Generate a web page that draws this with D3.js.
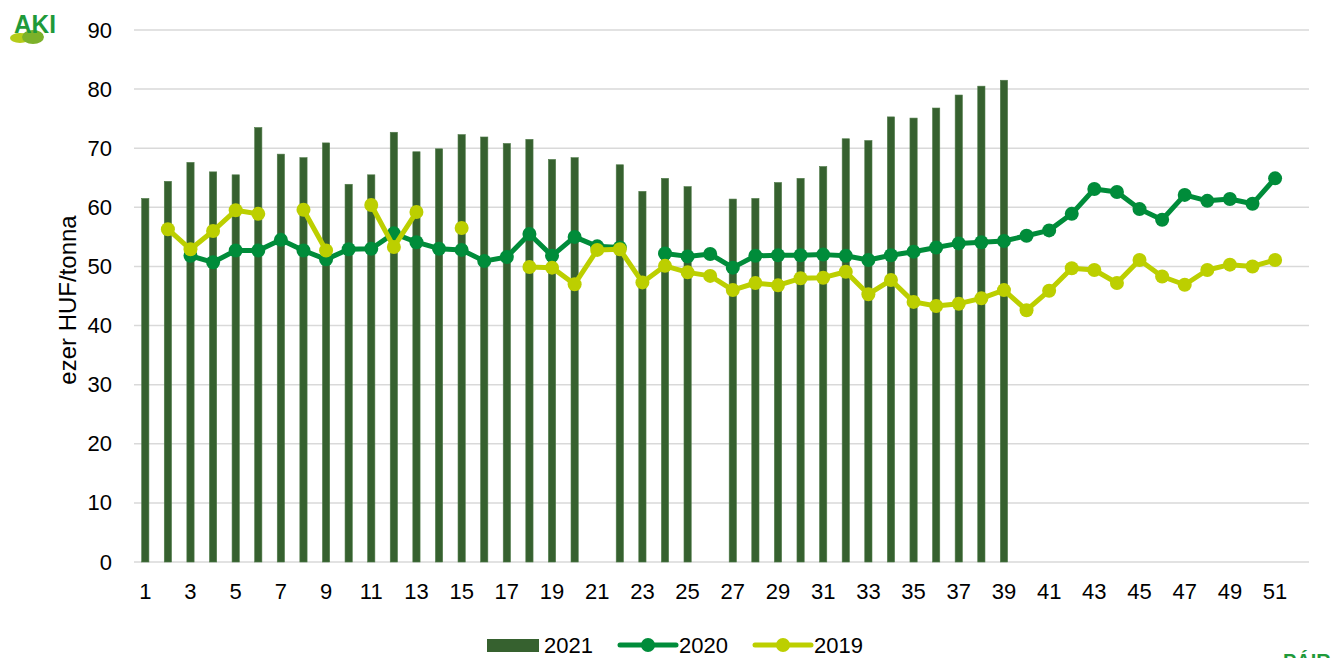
<!DOCTYPE html>
<html>
<head>
<meta charset="utf-8">
<script src="https://cdn.jsdelivr.net/npm/d3@7"></script>
<style>
  body { margin: 0; background: #fff; }
  text { font-family: "Liberation Sans", Arial, sans-serif; fill: #000; }
</style>
</head>
<body>
<div id="plot"></div>
<script>
// weeks 1..52 on the x axis, labels on odd weeks
const weeks = d3.range(1, 53);
const tickWeeks = d3.range(1, 52, 2);
const yTicks = d3.range(0, 91, 10);

// 2021 bars (weeks 1-39, some weeks missing)
const values2021 = [61.5, 64.4, 67.6, 66.0, 65.5, 73.5, 69.0, 68.4, 70.9, 63.9,
  65.5, 72.7, 69.4, 69.9, 72.3, 71.9, 70.8, 71.5, 68.1, 68.4,
  null, 67.2, 62.7, 64.9, 63.5, null, 61.4, 61.5, 64.2, 64.9,
  66.9, 71.6, 71.3, 75.3, 75.1, 76.8, 79.0, 80.5, 81.5];

// 2020 line
const values2020 = [null, null, 51.8, 50.7, 52.7, 52.7, 54.5, 52.7, 51.2, 52.9,
  53.0, 55.6, 54.1, 53.0, 52.8, 50.9, 51.6, 55.5, 51.8, 55.0,
  53.4, 53.2, null, 52.2, 51.7, 52.1, 49.8, 51.8, 51.9, 51.9,
  52.0, 51.8, 51.1, 51.9, 52.5, 53.2, 53.9, 54.1, 54.3, 55.2,
  56.1, 58.9, 63.1, 62.6, 59.7, 57.9, 62.1, 61.1, 61.4, 60.6, 64.9];

// 2019 line
const values2019 = [null, 56.3, 52.9, 56.0, 59.5, 58.9, null, 59.6, 52.7, null,
  60.4, 53.3, 59.2, null, 56.5, null, null, 49.9, 49.8, 47.0,
  52.8, 52.9, 47.3, 50.1, 49.0, 48.4, 46.0, 47.2, 46.8, 48.0,
  48.1, 49.1, 45.3, 47.7, 44.0, 43.3, 43.7, 44.6, 46.0, 42.6,
  45.9, 49.7, 49.4, 47.2, 51.1, 48.3, 46.9, 49.4, 50.3, 50.0, 51.1];

const seriesNames = ["2021", "2020", "2019"];
const colors = { "2021": "#36612f", "2020": "#008c3a", "2019": "#bccf00" };

const width = 1337, height = 658;
const plotLeft = 134, plotRight = 1309, plotTop = 30, plotBottom = 562;
const fontFamily = "Liberation Sans, Arial, sans-serif";

const svg = d3.select("#plot").append("svg")
  .attr("width", width)
  .attr("height", height);

const x = d3.scaleBand()
  .domain(weeks)
  .range([plotLeft, plotRight])
  .paddingInner(0.68)
  .paddingOuter(0.34);

const cx = d => x(d) + x.bandwidth() / 2;

const y = d3.scaleLinear().domain([0, 90]).range([plotBottom, plotTop]);

// gridlines
svg.append("g")
  .selectAll("line")
  .data(yTicks)
  .join("line")
    .attr("x1", plotLeft)
    .attr("x2", plotRight)
    .attr("y1", d => y(d))
    .attr("y2", d => y(d))
    .attr("stroke", "#d9d9d9")
    .attr("stroke-width", 1.5);

// y axis
const yAxis = svg.append("g")
  .attr("transform", `translate(${plotLeft},0)`)
  .call(d3.axisLeft(y).tickValues(yTicks).tickSize(0).tickPadding(22));
yAxis.select(".domain").remove();
yAxis.selectAll("text").style("font-size", "22px").style("font-family", fontFamily).attr("fill", "#000");

// x axis
const xAxis = svg.append("g")
  .attr("transform", `translate(0,${plotBottom})`)
  .call(d3.axisBottom(x).tickValues(tickWeeks).tickSize(0).tickPadding(21));
xAxis.select(".domain").remove();
xAxis.selectAll("text").style("font-size", "22px").style("font-family", fontFamily).attr("fill", "#000");

// y title
svg.append("text")
  .attr("transform", "translate(76,300) rotate(-90)")
  .attr("text-anchor", "middle")
  .style("font-size", "24px")
  .text("ezer HUF/tonna");

// bars
svg.append("g")
  .selectAll("rect")
  .data(values2021.map((v, i) => ({ week: i + 1, v })).filter(d => d.v != null))
  .join("rect")
    .attr("x", d => x(d.week))
    .attr("width", x.bandwidth())
    .attr("y", d => y(d.v))
    .attr("height", d => y(0) - y(d.v))
    .attr("fill", colors["2021"])
    .attr("stroke", "#4f7a48")
    .attr("stroke-width", 0.6);

// lines
const line = d3.line()
  .defined(d => d.v != null)
  .x(d => cx(d.week))
  .y(d => y(d.v));

function drawLine(values, color) {
  const data = values.map((v, i) => ({ week: i + 1, v }));
  svg.append("path")
    .datum(data)
    .attr("fill", "none")
    .attr("stroke", color)
    .attr("stroke-width", 5)
    .attr("stroke-linejoin", "round")
    .attr("d", line);
  svg.append("g")
    .selectAll("circle")
    .data(data.filter(d => d.v != null))
    .join("circle")
      .attr("cx", d => cx(d.week))
      .attr("cy", d => y(d.v))
      .attr("r", 7)
      .attr("fill", color);
}

drawLine(values2020, colors["2020"]);
drawLine(values2019, colors["2019"]);

// legend
const legend = svg.append("g").attr("transform", "translate(0,645)");
legend.append("rect")
  .attr("x", 487).attr("y", -6).attr("width", 52).attr("height", 13)
  .attr("fill", colors["2021"]);
legend.append("text").attr("x", 544).attr("y", 8).style("font-size", "22px").text(seriesNames[0]);

[[620, seriesNames[1]], [755, seriesNames[2]]].forEach(([lx, name]) => {
  legend.append("line")
    .attr("x1", lx).attr("x2", lx + 56).attr("y1", 0).attr("y2", 0)
    .attr("stroke", colors[name]).attr("stroke-width", 5).attr("stroke-linecap", "round");
  legend.append("circle").attr("cx", lx + 28).attr("cy", 0).attr("r", 7).attr("fill", colors[name]);
  legend.append("text").attr("x", lx + 59).attr("y", 8).style("font-size", "22px").text(name);
});

// logos
const logo = svg.append("g");
logo.append("ellipse").attr("cx", 20).attr("cy", 38).attr("rx", 10).attr("ry", 5).attr("fill", "#b5cc1a");
logo.append("ellipse").attr("cx", 33).attr("cy", 37).attr("rx", 11).attr("ry", 7).attr("fill", "#7cb12a");
logo.append("text")
  .attr("x", 14).attr("y", 33)
  .attr("textLength", 42)
  .attr("lengthAdjust", "spacingAndGlyphs")
  .style("font-size", "25px").style("font-weight", "bold")
  .style("fill", "#1f9a3a")
  .text("AKI");

svg.append("text")
  .attr("x", 1283).attr("y", 668)
  .style("font-size", "20px").style("font-weight", "bold")
  .style("fill", "#1f9a3a")
  .text("PÁIR");
</script>
</body>
</html>
